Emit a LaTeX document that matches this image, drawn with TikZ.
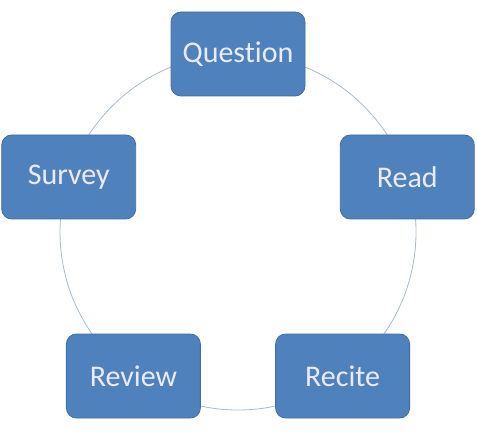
\documentclass[tikz,border=0pt]{standalone}
\usepackage{fontspec}
\setmainfont{Carlito}[Ligatures={NoCommon,NoRare,NoContextual}]
\usepackage{tikz}
\usetikzlibrary{positioning,calc}
\definecolor{boxblue}{HTML}{4F81BD}
\definecolor{boxedge}{HTML}{3F6EA6}
\definecolor{ringcol}{HTML}{A4BCD6}
\tikzset{stage/.style={draw=boxedge,line width=0.8pt,rounded corners=10pt,fill=boxblue,
    minimum width=134pt,minimum height=84pt,text=white!92!blue,font=\fontsize{30}{34}\selectfont},
  ring/.style={draw=ringcol,line width=0.8pt}}

\begin{document}
\begin{tikzpicture}[x=1pt,y=1pt]
\useasboundingbox (0,0) rectangle (478,434);
\coordinate (c) at (238,202);
\draw[ring] (c) circle (178);
\node[stage] (question) at ($(c)+(90:178)$) {Question};
\node[stage] (read) at ($(c)+(18:178)$) {Read};
\node[stage] (recite) at ($(c)+(-54:178)$) {Recite};
\node[stage] (review) at ($(c)+(-126:178)$) {Review};
\node[stage] (survey) at ($(c)+(162:178)$) {Survey};
\end{tikzpicture}
\end{document}
